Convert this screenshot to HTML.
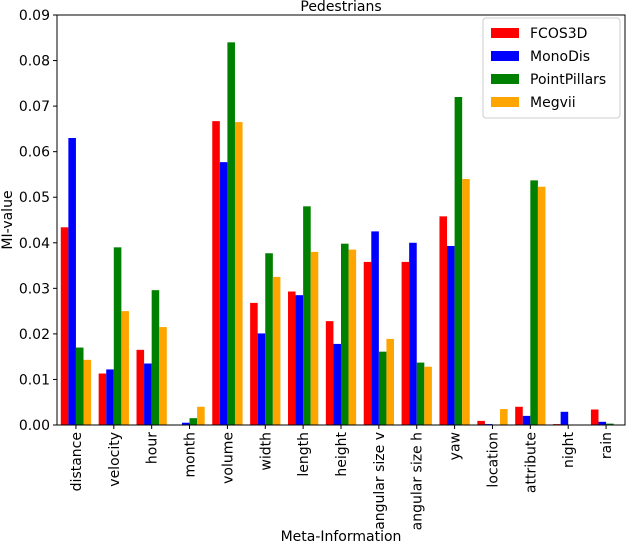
<!DOCTYPE html>
<html><head><meta charset="utf-8">
<style>
body{margin:0;background:#fff;}
svg{display:block;font-family:"DejaVu Sans","Liberation Sans",sans-serif;}
</style></head>
<body>
<svg id="chart" width="632" height="544" viewBox="0 0 632 544" xmlns="http://www.w3.org/2000/svg"></svg>
<script>
const categories = ["distance","velocity","hour","month","volume","width","length","height","angular size v","angular size h","yaw","location","attribute","night","rain"];
const seriesNames = ["FCOS3D","MonoDis","PointPillars","Megvii"];
const seriesColors = ["#ff0000","#0000ff","#008000","#ffa500"];
const fcos3d = [0.0434,0.0113,0.0165,0,0.0667,0.0268,0.0293,0.0228,0.0358,0.0358,0.0458,0.0009,0.0040,0.0002,0.0034];
const monodis = [0.063,0.0122,0.0135,0.0005,0.0577,0.0201,0.0285,0.0178,0.0425,0.0400,0.0393,0.0002,0.0020,0.0029,0.0007];
const pointpillars = [0.017,0.039,0.0296,0.0015,0.084,0.0377,0.048,0.0398,0.0161,0.0137,0.0720,0,0.0537,0,0.0003];
const megvii = [0.0143,0.025,0.0215,0.004,0.0665,0.0325,0.038,0.0385,0.0189,0.0128,0.0540,0.0035,0.0523,0,0];
const yTicks = [0,0.01,0.02,0.03,0.04,0.05,0.06,0.07,0.08,0.09];
const yTickLabels = ["0.00","0.01","0.02","0.03","0.04","0.05","0.06","0.07","0.08","0.09"];

const NS="http://www.w3.org/2000/svg";
const svg=document.getElementById('chart');
const L=57,R=625,T=15,B=425;
const yMax=0.09;
const n=categories.length;
const x=i=>L+(i+0.5)*(R-L)/n;
const y=v=>B-(v/yMax)*(B-T);
const step=(R-L)/n, bw=step*0.2;
function mk(tag,attrs,parent){const e=document.createElementNS(NS,tag);for(const k in attrs)e.setAttribute(k,attrs[k]);(parent||svg).appendChild(e);return e;}

const series=[fcos3d,monodis,pointpillars,megvii];
const barsG=mk('g',{});


series.forEach((s,si)=>{
  s.forEach((v,i)=>{
    const bx=x(i)-2*bw+si*bw;
    const r=mk('rect',{x:bx,y:y(v),width:bw,height:B-y(v),fill:seriesColors[si]},barsG);
    
    
  });
});

const frame=mk('rect',{x:L,y:T,width:R-L,height:B-T,fill:'none',stroke:'#000','stroke-width':1});



yTicks.forEach((t,i)=>{
  const ln=mk('line',{x1:L-4,x2:L,y1:y(t),y2:y(t),stroke:'#000'});
  
  
  const tx=mk('text',{x:L-7,y:y(t)+5,'text-anchor':'end','font-size':14});
  tx.textContent=yTickLabels[i];
  
  
});
categories.forEach((c,i)=>{
  const ln=mk('line',{x1:x(i),x2:x(i),y1:B,y2:B+4,stroke:'#000'});
  
  
  const tx=mk('text',{x:0,y:0,'text-anchor':'end','font-size':14,transform:`translate(${x(i)+5},${B+7}) rotate(-90)`});
  tx.textContent=c;
  
  
});

const title=mk('text',{x:(L+R)/2,y:11,'text-anchor':'middle','font-size':14});
title.textContent='Pedestrians';


const xt=mk('text',{x:(L+R)/2,y:541,'text-anchor':'middle','font-size':14});
xt.textContent='Meta-Information';


const yt=mk('text',{x:0,y:0,'text-anchor':'middle','font-size':14,transform:`translate(12,${(T+B)/2}) rotate(-90)`});
yt.textContent='MI-value';



const lg=mk('g',{});


mk('rect',{x:483,y:18,width:137,height:100,rx:3,fill:'#fff',stroke:'#ccc'},lg);
seriesNames.forEach((nm,i)=>{
  const ey=33+i*23;
  const e=mk('g',{},lg);
  
  
  mk('rect',{x:491,y:ey-5,width:28,height:10,fill:seriesColors[i]},e);
  const t=mk('text',{x:530,y:ey+5,'font-size':14},e);
  t.textContent=nm;
});
</script>
</body></html>
